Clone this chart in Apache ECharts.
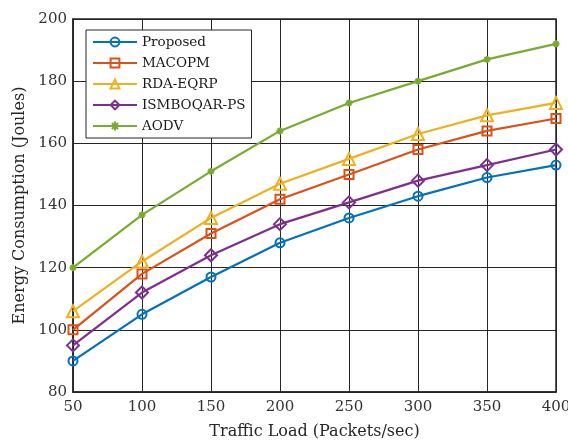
<!DOCTYPE html>
<html>
<head>
<meta charset="utf-8">
<script src="https://cdn.jsdelivr.net/npm/echarts@6/dist/echarts.min.js"></script>
<style>
  html, body { margin: 0; padding: 0; background: #fff; }
  #chart { width: 568px; height: 448px; }
</style>
</head>
<body>
<div id="chart"></div>
<script>
// Traffic load (packets/sec)
const trafficLoad = [50, 100, 150, 200, 250, 300, 350, 400];

// Energy consumption (Joules) per protocol
const proposed   = [90, 105, 117, 128, 136, 143, 149, 153];
const macopm     = [100, 118, 131, 142, 150, 158, 164, 168];
const rdaEqrp    = [106, 122, 136, 147, 155, 163, 169, 173];
const ismboqarPs = [95, 112, 124, 134, 141, 148, 153, 158];
const aodv       = [120, 137, 151, 164, 173, 180, 187, 192];

const seriesNames = ['Proposed', 'MACOPM', 'RDA-EQRP', 'ISMBOQAR-PS', 'AODV'];

const FONT = 'DejaVu Serif';
const INK = '#262626';

const asterisk = 'path://M5,0L5,10M0,5L10,5M1.5,1.5L8.5,8.5M8.5,1.5L1.5,8.5';

function makeSeries(name, values, color, symbol, size) {
  return {
    name: name,
    type: 'line',
    data: trafficLoad.map((x, i) => [x, values[i]]),
    symbol: symbol,
    symbolSize: size,
    showAllSymbol: true,
    lineStyle: { color: color, width: 2.2 },
    itemStyle: { color: '#ffffff00', borderColor: color, borderWidth: 2 },
    emphasis: { disabled: true }
  };
}

const chart = echarts.init(document.getElementById('chart'), null, { renderer: 'canvas' });
chart.setOption({
  animation: false,
  backgroundColor: '#ffffff',
  grid: {
    left: 73, right: 12, top: 19, bottom: 56,
    containLabel: false, outerBoundsMode: 'none',
    show: true, borderColor: INK, borderWidth: 1.5
  },
  legend: {
    orient: 'vertical',
    left: 86,
    top: 30,
    data: seriesNames,
    backgroundColor: '#ffffff',
    borderColor: INK,
    borderWidth: 1,
    padding: [5, 6, 5, 6],
    itemWidth: 44,
    itemHeight: 11,
    itemGap: 7,
    textStyle: { fontFamily: FONT, fontSize: 13.5, color: '#1a1a1a' }
  },
  xAxis: {
    type: 'value',
    min: 50,
    max: 400,
    interval: 50,
    name: 'Traffic Load (Packets/sec)',
    nameLocation: 'middle',
    nameGap: 32,
    nameTextStyle: { fontFamily: FONT, fontSize: 16, color: '#262626' },
    axisLine: { show: true, lineStyle: { color: INK, width: 1.5 } },
    axisTick: { show: false },
    axisLabel: { fontFamily: FONT, fontSize: 15, color: '#333', margin: 8 },
    splitLine: { show: true, lineStyle: { color: INK, width: 1 } }
  },
  yAxis: {
    type: 'value',
    min: 80,
    max: 200,
    interval: 20,
    name: 'Energy Consumption (Joules)',
    nameLocation: 'middle',
    nameGap: 41,
    nameTextStyle: { fontFamily: FONT, fontSize: 16, color: '#262626' },
    axisLine: { show: true, lineStyle: { color: INK, width: 1.5 } },
    axisTick: { show: false },
    axisLabel: { fontFamily: FONT, fontSize: 15, color: '#333', margin: 6 },
    splitLine: { show: true, lineStyle: { color: INK, width: 1 } }
  },
  series: [
    makeSeries('Proposed', proposed, '#0072BD', 'circle', 9),
    makeSeries('MACOPM', macopm, '#D95319', 'rect', 9),
    makeSeries('RDA-EQRP', rdaEqrp, '#EDB120', 'triangle', 12),
    makeSeries('ISMBOQAR-PS', ismboqarPs, '#7E2F8E', 'diamond', 12),
    makeSeries('AODV', aodv, '#77AC30', asterisk, 7)
  ]
});
</script>
</body>
</html>
